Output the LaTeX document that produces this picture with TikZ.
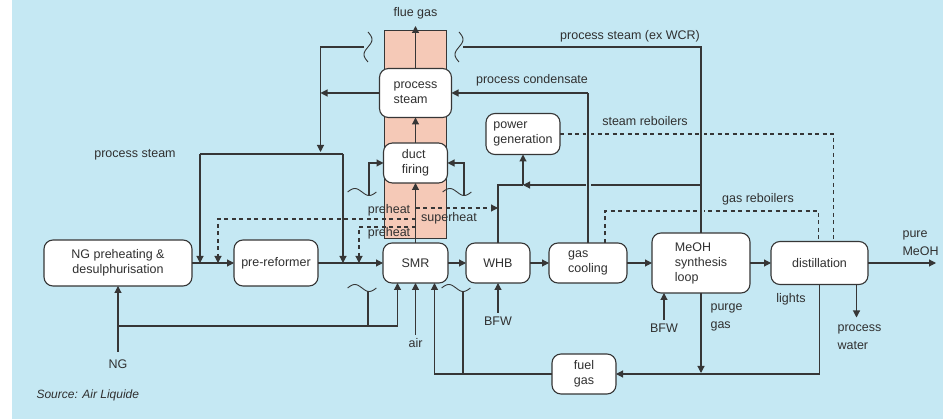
\documentclass[tikz,border=0pt]{standalone}
\usepackage{fontspec}
\setmainfont{Liberation Sans}
\usepackage{xcolor}
\usepackage{tikz}
\usetikzlibrary{positioning,arrows.meta,calc}
\definecolor{bgBlue}{HTML}{C5E8F3}
\definecolor{stackRed}{HTML}{F5C9B7}
\definecolor{lineGray}{HTML}{363636}
\definecolor{textGray}{HTML}{303030}

\begin{document}
\begin{tikzpicture}[x=1pt,y=-1pt,line width=1.1pt,color=lineGray,text=textGray,
      font=\fontsize{12.5}{15}\selectfont,
      unit/.style={draw,fill=white,rounded corners=9pt,line width=1.1pt,inner sep=1pt,outer sep=0pt,align=left},
      lbl/.style={inner sep=1pt,align=left,font=\fontsize{12.5}{18}\selectfont},
      arr/.style={-{Triangle[length=7pt,width=7pt]}},
      dsh/.style={dash pattern=on 4pt off 3.5pt},
      halo/.style={preaction={draw=bgBlue,line width=5pt,shorten <=3pt,shorten >=3pt}},
      vbrk/.pic={\draw[line width=0.9pt] plot[smooth,variable=\t,domain=0:360,samples=25] ({4*sin(\t)},{\t/12-15});},
      hbrk/.pic={\draw[line width=0.9pt] plot[smooth,variable=\t,domain=0:360,samples=25] ({\t/12.5-14.4},{-3.5*sin(\t)});}]
    \useasboundingbox (0,0) rectangle (943,419);
    \fill[white] (0,0) rectangle (12,419);
    \fill[bgBlue] (12,0) rectangle (943,419);
    % reformer stack
    \draw[fill=stackRed,line width=0.8pt] (384,30) rectangle (446,238);

    % main line
    \node[unit,minimum width=148pt,minimum height=46pt,align=center] (ng) at (118,263) {NG preheating \&\\desulphurisation};
    \node[unit,minimum width=84pt,minimum height=46pt,right=42pt of ng] (pre) {pre-reformer};
    \node[unit,minimum width=65pt,minimum height=40pt,right=65pt of pre] (smr) {SMR};
    \node[unit,minimum width=64pt,minimum height=40pt,right=18pt of smr] (whb) {WHB};
    \node[unit,minimum width=78pt,minimum height=40pt,right=19pt of whb] (cool) {gas\\cooling};
    \node[unit,minimum width=98pt,minimum height=60pt,right=25pt of cool] (meoh) {MeOH\\synthesis\\loop};
    \node[unit,minimum width=97pt,minimum height=43pt,right=21pt of meoh] (dist) {distillation};

    \node[unit,minimum width=72pt,minimum height=49pt] (psteam) at (415.5,93) {process\\steam};
    \node[unit,minimum width=64pt,minimum height=40pt] (duct) at (415.5,163) {duct\\firing};
    \node[unit,minimum width=74pt,minimum height=41pt] (power) at (523,134) {power\\generation};
    \node[unit,minimum width=64pt,minimum height=40pt,align=center] (fuel) at (584,374) {fuel\\gas};

    % labels
    \node (flue) at (415.5,13) {flue gas};
    \node[lbl] (pslbl) at (135,155) {process steam};
    \node[lbl] (wcrlbl) at (630,36) {process steam (ex WCR)};
    \node[lbl] (condlbl) at (532,80) {process condensate};
    \node[lbl] (srblbl) at (645,121) {steam reboilers};
    \node[lbl] (grblbl) at (758,199) {gas reboilers};
    \node[lbl] (ph1) at (389,210) {preheat};
    \node[lbl] (shlbl) at (449,218) {superheat};
    \node[lbl] (ph2) at (389,233) {preheat};
    \node[lbl,anchor=west] (purelbl) at (901,243) {pure\\MeOH};
    \node (nglbl) at (118,364) {NG};
    \node[below=52pt of smr] (airlbl) {air};
    \node[below=30pt of whb] (bfw1) {BFW};
    \node[below=27pt of meoh.south,xshift=-37pt] (bfw2) {BFW};
    \node[lbl,anchor=west] (purgelbl) at (709,317) {purge\\gas};
    \node[lbl] (lightslbl) at (791,299) {lights};
    \node[lbl,anchor=west] (pwlbl) at (836,337) {process\\water};
    \node[anchor=west,inner sep=1pt,font=\fontsize{12}{14}\selectfont\itshape] (src) at (35,395) {Source: Air Liquide};

    \coordinate (flueout) at (415.5,26);
    \coordinate (psL) at (200,154);
    \coordinate (psR) at (343,154);
    \coordinate (sh) at (320.5,152);
    \coordinate (phA) at (218,219);
    \coordinate (phB) at (359,227);
    \coordinate (shlvl) at (0,208);
    \coordinate (grlvl) at (0,211);
    \coordinate (grA) at ([xshift=17pt]cool.north);
    \coordinate (pgJ) at (523,185);
    \coordinate (ngfeed) at (118,352);
    \coordinate (ngtee) at (118,326);
    \coordinate (mout) at (936,263);

    % reboiler and preheat lines
    \draw[dsh] (power.east) -| ([xshift=14pt]dist.north);
    \draw[dsh] (grA) -- (grA |- grlvl) -| ([xshift=-1pt]dist.north);
    \draw[dsh,arr] (smr.north |- phA) -| (phA |- ng.east);
    \draw[dsh,arr] (smr.north |- phB) -| (phB |- pre.east);
    \draw[dsh,arr] (smr.north |- shlvl) -- (whb.north |- shlvl);

    % steam network
    \draw[halo] (meoh.north) |- (463,47);
    \pic at (459,47) {vbrk};
    \pic at (368,47) {vbrk};
    \draw[arr] (364,47) -| (sh);
    \draw[arr] (psteam.west) -- (psteam.west -| sh);
    \draw (psL) -- (psR);
    \draw[arr] (psL) -- (psL |- ng.east);
    \draw[arr] (psR) -- (psR |- pre.east);
    \draw[arr] (meoh.north |- pgJ) -- (pgJ);
    \draw (pgJ) -| (whb.north);
    \draw[arr] (pgJ) -- (pgJ |- power.south);
    \draw[halo] (cool.north) -- (cool.north |- psteam.east);
    \draw[arr] (cool.north |- psteam.east) -- (psteam.east);

    % stack
    \draw[arr] (smr) -- (duct);
    \draw[arr] (duct) -- (psteam);
    \draw[arr] (psteam) -- (flueout);

    % process flow
    \draw[arr] (ng) -- (pre);
    \draw[arr] (pre) -- (smr);
    \draw[arr] (smr) -- (whb);
    \draw[arr] (whb) -- (cool);
    \draw[arr] (cool) -- (meoh);
    \draw[arr] (meoh) -- (dist);
    \draw[arr] (dist) -- (mout);

    % feeds
    \draw[arr] (ngfeed) -- (ng);
    \draw[arr] (ngtee) -| ([xshift=-18pt]smr.south);
    \draw (368,326) -- (368,291);
    \pic at (362,288) {hbrk};
    \pic at (362,192) {hbrk};
    \draw[arr] (369,195) |- (duct.west);
    \draw[arr] (fuel.west) -| ([xshift=19pt]smr.south);
    \draw (463,374) -- (463,291);
    \pic at (456,288) {hbrk};
    \pic at (457,192) {hbrk};
    \draw[arr] (464,195) |- (duct.east);
    \draw[arr] (airlbl) -- (smr);
    \draw[arr] (bfw1) -- (whb);
    \draw[arr] (bfw2) -- (bfw2 |- meoh.south);
    \draw[arr] (meoh.south) -- ([yshift=1pt]meoh.south |- fuel.east);
    \draw[arr] (dist.south) |- (fuel.east);
    \draw[arr] ([xshift=37pt]dist.south) -- ++(0,33);
  \end{tikzpicture}
\end{document}
